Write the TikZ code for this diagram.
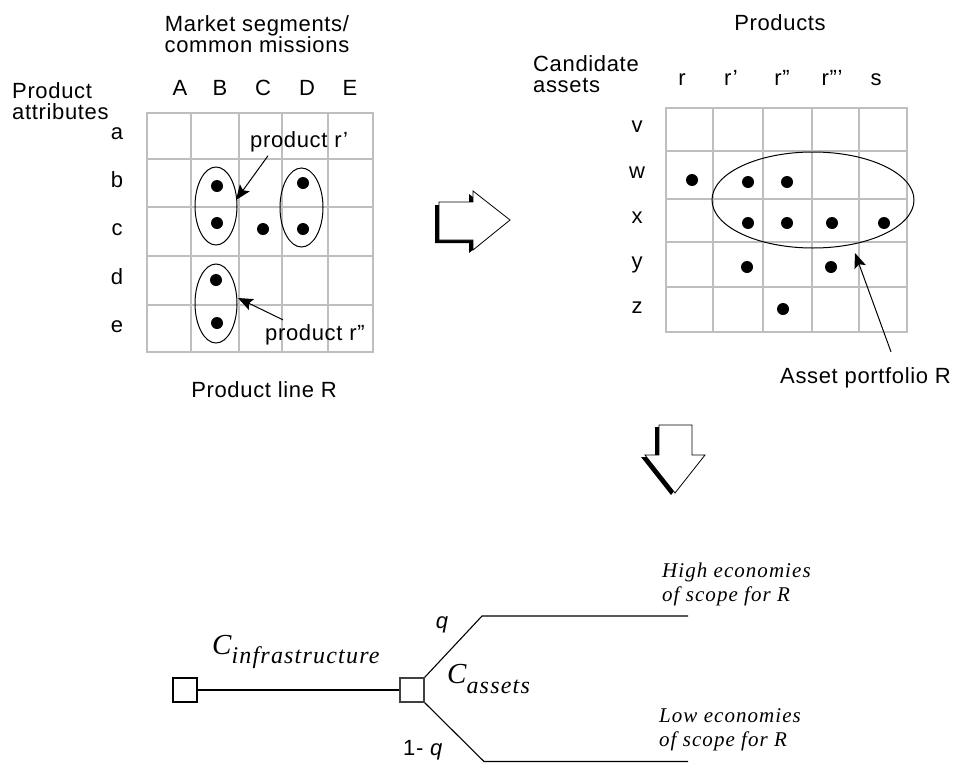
\documentclass[tikz,border=0pt]{standalone}
\usepackage{fontspec}
\setmainfont{Liberation Serif}[LetterSpace=5]
\setsansfont{Liberation Sans}[LetterSpace=3]
\usetikzlibrary{arrows.meta}
\definecolor{mygray}{RGB}{190,190,190}
\newcommand{\rightblock}{(439,202) -- (473,202) -- (473,191) -- (510,220) -- (473,250) -- (473,240) -- (439,240) -- cycle}
\newcommand{\downblock}{(659,425) -- (692,425) -- (692,455) -- (705,455) -- (675,493) -- (645,455) -- (659,455) -- cycle}

\begin{document}
\begin{tikzpicture}[x=1pt,y=-1pt,
  txt/.style={font=\sffamily\fontsize{22}{21}\selectfont,inner sep=0pt},
  ital/.style={font=\rmfamily\itshape\fontsize{21}{24}\selectfont,inner sep=0pt,align=left},
  cell/.style={mygray,line width=2.2pt,line cap=rect},
  ring/.style={line width=1pt},
  ptr/.style={-{Stealth[length=15pt,width=12pt,inset=3pt]},line width=1pt},
  box/.style={draw,line width=1.1pt,minimum size=24pt,inner sep=0pt}]
 \useasboundingbox (0,0) rectangle (958,763);

 % product line R
 \foreach \x in {147,191,239,282,328,373} \draw[cell] (\x,113) -- (\x,352);
 \foreach \y in {113,159,207,256,305,352} \draw[cell] (147,\y) -- (373,\y);
 \foreach \l/\x in {A/180,B/220,C/263,D/307,E/350}
   \node[txt,anchor=base] (col\l) at (\x,95) {\l};
 \foreach \l/\y in {a/137,b/185,c/233,d/282,e/330}
   \node[txt,anchor=mid] (row\l) at (117,\y) {\l};
 \node[txt,align=center,anchor=north] (segs) at (257,15) {Market segments/\\common missions};
 \node[txt,align=left,anchor=north west] (attrs) at (12,82) {Product\\attributes};
 \foreach \p in {(217,186),(217,223),(263,229),(303,183),(303,229),(216,280),(217,323)}
   \fill \p circle[radius=6pt];
 \draw[ring] (216,206) ellipse[x radius=21pt,y radius=39pt]
             (301.5,207.5) ellipse[x radius=21.5pt,y radius=39.5pt]
             (216,303.5) ellipse[x radius=21pt,y radius=39.5pt];
 \node[txt,anchor=base west] (prodA) at (250,147) {product r'};
 \node[txt,anchor=base west] (prodB) at (265,340) {product r''};
 \coordinate (tipA) at (236,200);
 \coordinate (tipB) at (238,298);
 \draw[ptr] ([xshift=18pt,yshift=-4pt]prodA.south west) -- (tipA);
 \draw[ptr] ([xshift=18pt,yshift=4pt]prodB.north west) -- (tipB);
 \node[txt,anchor=base] (lineR) at (264,397) {Product line R};

 % block arrows
 \fill[black,shift={(-4,3)}] \rightblock;
 \filldraw[fill=white,draw=black,line width=0.8pt] \rightblock;
 \fill[black,shift={(-4,2)}] \downblock;
 \filldraw[fill=white,draw=black,line width=0.8pt] \downblock;

 % asset portfolio R
 \foreach \x in {666,713,763,812,859,907} \draw[cell] (\x,108) -- (\x,332);
 \foreach \y in {108,151,199,242,287,332} \draw[cell] (666,\y) -- (907,\y);
 \foreach \l/\x [count=\i] in {r/682,r'/731,r''/782,r'''/832,s/876}
   \node[txt,anchor=base] (prd\i) at (\x,85) {\l};
 \foreach \l/\y in {v/130,w/176,x/221,y/266,z/311}
   \node[txt,anchor=mid] (ast\l) at (637,\y) {\l};
 \node[txt,anchor=base] (prods) at (780,30) {Products};
 \node[txt,align=left,anchor=north west] (cands) at (533,55) {Candidate\\assets};
 \foreach \p in {(692,180),(748,182),(787,182),(748,223),(787,223),(832,223),
                 (884,223),(747,267),(831,267),(783,309)}
   \fill \p circle[radius=6pt];
 \draw[ring] (813,200) ellipse[x radius=101pt,y radius=48pt];
 \node[txt,anchor=base west] (port) at (780,383) {Asset portfolio R};
 \coordinate (tipP) at (855,253);
 \draw[ptr] ([xshift=111pt,yshift=15pt]port.north west) -- (tipP);

 % decision tree
 \node[box] (root) at (185,690) {};
 \node[box,line width=1.6pt,draw=black!75] (chance) at (412,690) {};
 \draw[line width=1.1pt] (root) -- (chance);
 \coordinate (hiA) at (482,616);
 \coordinate (hiB) at (688,616);
 \coordinate (loA) at (484,761.5);
 \coordinate (loB) at (688,761.5);
 \draw[line width=1.1pt] (chance.north east) -- (hiA) -- (hiB);
 \draw[line width=1.1pt] (chance.south east) -- (loA) -- (loB);
 \node[anchor=base west,inner sep=0pt] (cinf) at (212,654)
   {\fontsize{29}{29}\selectfont\itshape C\raisebox{-9pt}{\fontsize{24}{24}\selectfont infrastructure}};
 \node[anchor=base west,inner sep=0pt] (cass) at (447,683)
   {\fontsize{29}{29}\selectfont\itshape C\raisebox{-10pt}{\fontsize{24}{24}\selectfont assets}};
 \node[txt,anchor=base] (pq) at (442,628) {\itshape q};
 \node[txt,anchor=base west] (pnq) at (403,755) {1- \itshape q};
 \node[ital,anchor=north west] (high) at (662,563) {High economies\\of scope for R};
 \node[ital,anchor=north west] (low) at (659,708) {Low economies\\of scope for R};
\end{tikzpicture}
\end{document}
